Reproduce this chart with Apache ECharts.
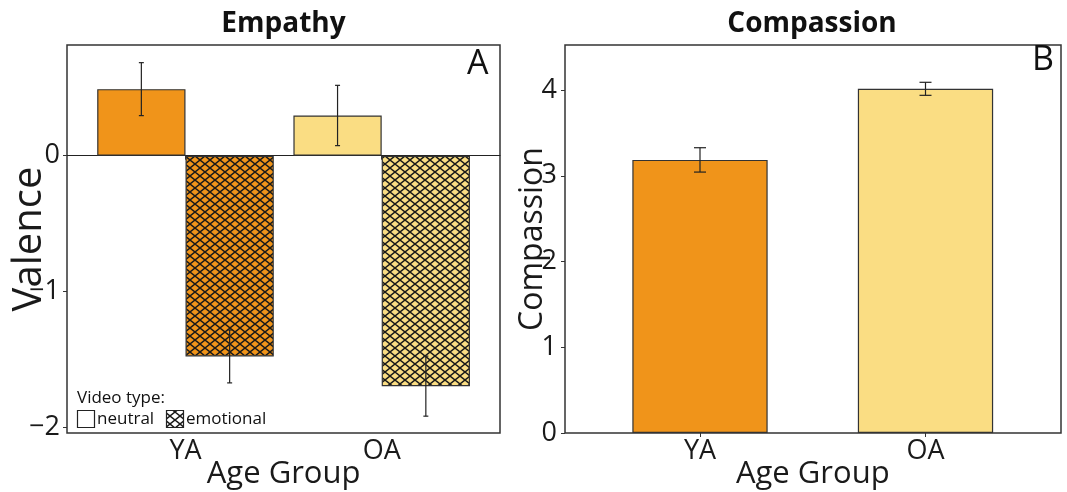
<!DOCTYPE html>
<html>
<head>
<meta charset="utf-8">
<script src="https://cdn.jsdelivr.net/npm/echarts@6/dist/echarts.min.js"></script>
<style>
html,body{margin:0;padding:0;background:#fff;}
#chart{width:1067px;height:492px;}
</style>
</head>
<body>
<div id="chart"></div>
<script>
// ---- data ----
const ageGroups = ['YA', 'OA'];
const valenceNeutral = [0.49, 0.296];
const valenceNeutralSE = [0.195, 0.222];
const valenceEmotional = [-1.478, -1.697];
const valenceEmotionalSE = [0.195, 0.221];
const compassion = [3.185, 4.014];
const compassionSE = [0.142, 0.076];
const valenceTicks = [-2, -1, 0];
const compassionTicks = [0, 1, 2, 3, 4];

// ---- style ----
const ORANGE = '#F0941A';
const YELLOW = '#FADD83';
const EDGE = '#333333';
const FONT = "'Open Sans', 'Noto Sans', sans-serif";
const groupColors = [ORANGE, YELLOW];

function hatch(bg) {
  const c = document.createElement('canvas');
  c.width = 10; c.height = 8;
  const g = c.getContext('2d');
  g.fillStyle = bg; g.fillRect(0, 0, 10, 8);
  g.strokeStyle = '#1a1a1a'; g.lineWidth = 1.4;
  g.beginPath();
  g.moveTo(0, 0); g.lineTo(10, 8);
  g.moveTo(0, 8); g.lineTo(10, 0);
  g.stroke();
  return { image: c, repeat: 'repeat' };
}

function errSeries(name, xi, yi, vals, ses, shiftFrac, capW) {
  return {
    type: 'custom', name: name, xAxisIndex: xi, yAxisIndex: yi, z: 5,
    data: vals.map((v, i) => [i, v, v - ses[i], v + ses[i]]),
    renderItem: function (params, api) {
      const band = api.size([1, 0])[0];
      const lo = api.coord([api.value(0), api.value(2)]);
      const hi = api.coord([api.value(0), api.value(3)]);
      const x = lo[0] + shiftFrac * band;
      const st = { stroke: '#222', lineWidth: 1.2 };
      return {
        type: 'group', children: [
          { type: 'line', shape: { x1: x, y1: lo[1], x2: x, y2: hi[1] }, style: st },
          { type: 'line', shape: { x1: x - capW, y1: lo[1], x2: x + capW, y2: lo[1] }, style: st },
          { type: 'line', shape: { x1: x - capW, y1: hi[1], x2: x + capW, y2: hi[1] }, style: st }
        ]
      };
    }
  };
}

const tickLabel = { fontFamily: FONT, fontSize: 27, color: '#1a1a1a' };
const xNameStyle = { fontFamily: FONT, fontSize: 31, color: '#1a1a1a' };

const chart = echarts.init(document.getElementById('chart'), null, { renderer: 'canvas' });

const gridBase = { top: 45, height: 388, containLabel: false, outerBoundsMode: 'none' };

const option = {
  animation: false,
  backgroundColor: '#fff',
  grid: [
    Object.assign({ left: 67, width: 433, show: true, borderColor: EDGE, borderWidth: 1.5, backgroundColor: 'transparent' }, gridBase),
    Object.assign({ left: 87.4, width: 392.4 }, gridBase),
    Object.assign({ left: 565, width: 496, show: true, borderColor: EDGE, borderWidth: 1.5, backgroundColor: 'transparent' }, gridBase),
    Object.assign({ left: 587.25, width: 451 }, gridBase)
  ],
  xAxis: [
    { gridIndex: 0, type: 'value', min: 0, max: 1, axisLine: { show: true, onZero: true, lineStyle: { color: '#222', width: 1.2 } },
      axisTick: { show: false }, axisLabel: { show: false }, splitLine: { show: false } },
    { gridIndex: 1, type: 'category', data: ageGroups, axisLine: { show: false },
      axisTick: { show: true, alignWithLabel: true, length: 4, lineStyle: { color: EDGE } },
      axisLabel: Object.assign({ margin: 5 }, tickLabel),
      name: 'Age Group', nameLocation: 'middle', nameGap: 26, nameMoveOverlap: false, nameTextStyle: xNameStyle },
    { gridIndex: 2, type: 'value', min: 0, max: 1, show: false },
    { gridIndex: 3, type: 'category', data: ageGroups, axisLine: { show: false },
      axisTick: { show: true, alignWithLabel: true, length: 4, lineStyle: { color: EDGE } },
      axisLabel: Object.assign({ margin: 5 }, tickLabel),
      name: 'Age Group', nameLocation: 'middle', nameGap: 26, nameMoveOverlap: false, nameTextStyle: xNameStyle }
  ],
  yAxis: [
    { gridIndex: 0, type: 'value', min: -2.042, max: 0.815,
      axisLine: { show: false }, splitLine: { show: false },
      axisTick: { show: true, length: 4, customValues: valenceTicks, lineStyle: { color: EDGE } },
      axisLabel: Object.assign({ margin: 7, customValues: valenceTicks,
        formatter: v => (v < 0 ? '\u2212' + Math.abs(v) : String(v)) }, tickLabel),
      name: 'Valence', nameLocation: 'middle', nameRotate: 90, nameGap: 17, nameMoveOverlap: false,
      nameTextStyle: { fontFamily: FONT, fontSize: 40, color: '#1a1a1a' } },
    { gridIndex: 1, type: 'value', min: -2.042, max: 0.815, show: false },
    { gridIndex: 2, type: 'value', min: 0, max: 4.525, interval: 1,
      axisLine: { show: false }, splitLine: { show: false },
      axisTick: { show: true, length: 4, customValues: compassionTicks, lineStyle: { color: EDGE } },
      axisLabel: Object.assign({ margin: 8, customValues: compassionTicks }, tickLabel),
      name: 'Compassion', nameLocation: 'middle', nameRotate: 90, nameGap: 16, nameMoveOverlap: false,
      nameTextStyle: { fontFamily: FONT, fontSize: 32, color: '#1a1a1a' } },
    { gridIndex: 3, type: 'value', min: 0, max: 4.525, show: false }
  ],
  title: [
    { text: 'Empathy', left: 278.5, top: 5, textAlign: 'center',
      textStyle: { fontFamily: FONT, fontSize: 28, fontWeight: 'bold', color: '#111' } },
    { text: 'Compassion', left: 807, top: 5, textAlign: 'center',
      textStyle: { fontFamily: FONT, fontSize: 28, fontWeight: 'bold', color: '#111' } }
  ],
  series: [
    { type: 'bar', name: 'neutral', xAxisIndex: 1, yAxisIndex: 1, barWidth: '45%', barGap: '0%',
      data: valenceNeutral.map((v, i) => ({ value: v, itemStyle: { color: groupColors[i] } })),
      itemStyle: { borderColor: EDGE, borderWidth: 1.2 } },
    { type: 'bar', name: 'emotional', xAxisIndex: 1, yAxisIndex: 1, barWidth: '45%', barGap: '0%',
      data: valenceEmotional.map((v, i) => ({ value: v, itemStyle: { color: hatch(groupColors[i]) } })),
      itemStyle: { borderColor: EDGE, borderWidth: 1.2 } },
    errSeries('neutral SE', 1, 1, valenceNeutral, valenceNeutralSE, -0.225, 2.5),
    errSeries('emotional SE', 1, 1, valenceEmotional, valenceEmotionalSE, 0.225, 2.5),
    { type: 'bar', name: 'compassion', xAxisIndex: 3, yAxisIndex: 3, barWidth: '60%',
      data: compassion.map((v, i) => ({ value: v, itemStyle: { color: groupColors[i] } })),
      itemStyle: { borderColor: EDGE, borderWidth: 1.2 } },
    errSeries('compassion SE', 3, 3, compassion, compassionSE, 0, 6)
  ],
  graphic: [
    { type: 'text', left: 467, top: 47, style: { text: 'A', font: '34px ' + FONT, fill: '#111' } },
    { type: 'text', left: 1032, top: 43, style: { text: 'B', font: '34px ' + FONT, fill: '#111' } },
    { type: 'text', x: 77, y: 398, style: { text: 'Video type:', font: '17px ' + FONT, fill: '#111', verticalAlign: 'middle', align: 'left' } },
    { type: 'rect', shape: { x: 77.5, y: 410.5, width: 17, height: 17 }, style: { fill: '#fff', stroke: '#222', lineWidth: 1.2 } },
    { type: 'text', x: 97, y: 419, style: { text: 'neutral', font: '17px ' + FONT, fill: '#111', verticalAlign: 'middle', align: 'left' } },
    { type: 'rect', shape: { x: 166.5, y: 410.5, width: 17, height: 17 }, style: { fill: hatch('#fff'), stroke: '#222', lineWidth: 1.2 } },
    { type: 'text', x: 186, y: 419, style: { text: 'emotional', font: '17px ' + FONT, fill: '#111', verticalAlign: 'middle', align: 'left' } }
  ]
};
chart.setOption(option);
</script>
</body>
</html>
